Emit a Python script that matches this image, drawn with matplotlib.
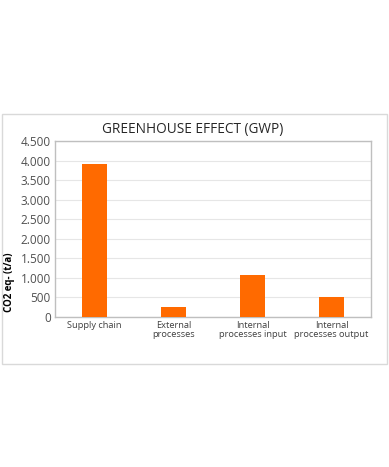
import matplotlib
matplotlib.use("Agg")
import matplotlib.pyplot as plt
from matplotlib.patches import Rectangle
import numpy as np

categories = ["Supply chain", "External\nprocesses", "Internal\nprocesses input", "Internal\nprocesses output"]
values = [3920, 260, 1070, 510]
yticks = [0, 500, 1000, 1500, 2000, 2500, 3000, 3500, 4000, 4500]
ytick_labels = ["0", "500", "1.000", "1.500", "2.000", "2.500", "3.000", "3.500", "4.000", "4.500"]

plt.rcParams['font.family'] = ['Open Sans', 'DejaVu Sans']

W, H = 389, 467
fig = plt.figure(figsize=(W / 100, H / 100), dpi=100)
fig.patch.set_facecolor("white")

# outer frame
fig.patches.append(Rectangle((2 / W, 1 - 364 / H), 385 / W, 250 / H, transform=fig.transFigure,
                             fill=False, edgecolor="#d9d9d9", linewidth=1.0))

ax = fig.add_axes([55 / W, 1 - 317 / H, (371 - 55) / W, (317 - 141) / H])
x = np.arange(len(categories))
ax.bar(x, values, width=0.31, color="#ff6a00", zorder=3)
ax.set_xlim(-0.5, len(categories) - 0.5)
ax.set_ylim(0, 4500)
ax.set_yticks(yticks)
ax.set_yticklabels(ytick_labels, fontsize=8.5, color="#505050")
ax.set_xticks(x)
ax.set_xticklabels(categories, fontsize=6.7, color="#404040", linespacing=0.95)
ax.tick_params(axis="both", length=0, pad=3)
ax.grid(axis="y", color="#e6e6e6", linewidth=0.8, zorder=0)
for s in ax.spines.values():
    s.set_color("#bfbfbf")
    s.set_linewidth(1.0)

fig.text(193 / W, 1 - 130 / H, "GREENHOUSE EFFECT (GWP)", ha="center", va="center", fontsize=9.8, color="#262626")
fig.text(10 / W, 1 - 282 / H, "CO2 eq- (t/a)", ha="center", va="center", rotation=90, fontsize=7,
         fontweight="bold", color="#000000")

fig.savefig("out.png", dpi=100)
